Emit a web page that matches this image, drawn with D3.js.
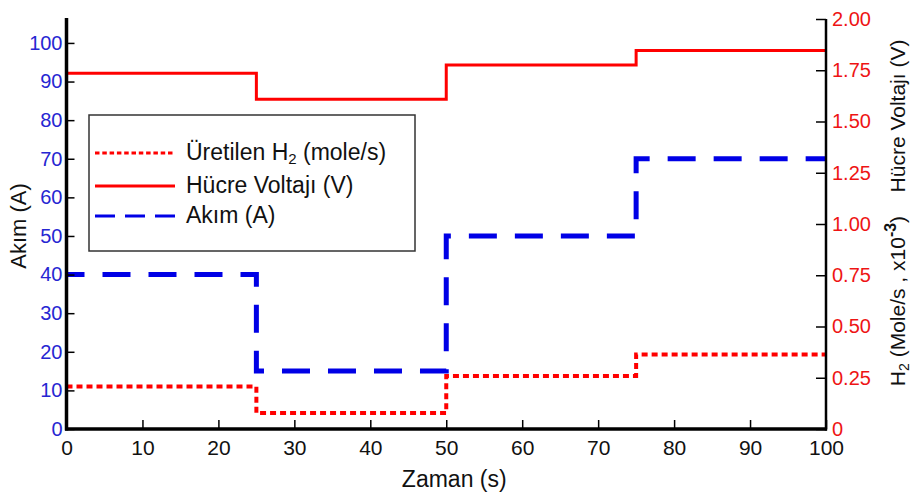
<!DOCTYPE html>
<html><head><meta charset="utf-8">
<script src="https://cdn.jsdelivr.net/npm/d3@7"></script>
<style>
body{margin:0;background:#fff;}
svg{display:block;font-family:"Liberation Sans",Arial,sans-serif;}
</style></head>
<body><svg id="c" width="915" height="493"></svg>
<script>
// ---- data ----
const timeEdges = [0, 25, 50, 75, 100];          // s
const currentA  = [40, 15, 50, 70];              // A (left axis)
const voltageV  = [1.735, 1.608, 1.776, 1.846];  // V (right axis)
const h2Rate    = [0.207, 0.078, 0.259, 0.363];  // mole/s x10^-3 (right axis)
const xTicks = [0,10,20,30,40,50,60,70,80,90,100];
const leftTicks = [0,10,20,30,40,50,60,70,80,90,100];
const rightTicks = [0,0.25,0.5,0.75,1,1.25,1.5,1.75,2];
const rightTickLabels = ["0","0.25","0.50","0.75","1.00","1.25","1.50","1.75","2.00"];
const legendLabels = ["Üretilen H", "Hücre Voltajı (V)", "Akım (A)"];

const svg = d3.select("#c");
const X0 = 66.5, X1 = 826, Y0 = 429, Y1 = 19;
const x = d3.scaleLinear().domain([0,100]).range([X0,X1]);
const yL = d3.scaleLinear().domain([0,106.2]).range([Y0,Y1]);
const yR = d3.scaleLinear().domain([0,2]).range([Y0,Y1]);

const RED = "#ff0000", BLUE = "#0000e6", TBLUE = "#2626d2", TRED = "#ee1414";

function stepPts(vals){
  const p = vals.map((v,i)=>[timeEdges[i], v]);
  p.push([timeEdges[timeEdges.length-1], vals[vals.length-1]]);
  return p;
}
const lineL = d3.line().x(d=>x(d[0])).y(d=>yL(d[1])).curve(d3.curveStepAfter);
const lineR = d3.line().x(d=>x(d[0])).y(d=>yR(d[1])).curve(d3.curveStepAfter);

// series
svg.append("path").attr("d", lineR(stepPts(h2Rate))).attr("fill","none")
  .attr("stroke",RED).attr("stroke-width",4).attr("stroke-dasharray","6,4");
svg.append("path").attr("d", lineR(stepPts(voltageV))).attr("fill","none")
  .attr("stroke",RED).attr("stroke-width",3);
svg.append("path").attr("d", lineL(stepPts(currentA))).attr("fill","none")
  .attr("stroke",BLUE).attr("stroke-width",5).attr("stroke-dasharray","28,18").attr("stroke-dashoffset",10);

// axes
const gx = svg.append("g").attr("transform",`translate(0,${Y0})`)
  .call(d3.axisBottom(x).tickValues(xTicks).tickFormat(d3.format("d")).tickSizeInner(-9).tickSizeOuter(0).tickPadding(6));
gx.select(".domain").remove();
gx.selectAll("text").attr("font-size",21).attr("fill","#111").attr("dy","0.95em");
gx.selectAll("line").attr("stroke","#000").attr("stroke-width",1.5);
svg.append("line").attr("x1",X0-1.5).attr("x2",X1+1).attr("y1",Y0).attr("y2",Y0).attr("stroke","#000").attr("stroke-width",3.5);

const gl = svg.append("g").attr("transform",`translate(${X0},0)`)
  .call(d3.axisLeft(yL).tickValues(leftTicks).tickFormat(d3.format("d")).tickSizeInner(-8).tickSizeOuter(0).tickPadding(4));
gl.select(".domain").remove();
gl.selectAll("text").attr("font-size",20).attr("fill",TBLUE);
gl.selectAll("line").attr("stroke","#000").attr("stroke-width",1.5);
svg.append("line").attr("x1",X0).attr("x2",X0).attr("y1",Y1-1).attr("y2",Y0+1.5).attr("stroke","#000").attr("stroke-width",3.5);

const gr = svg.append("g").attr("transform",`translate(${X1},0)`)
  .call(d3.axisRight(yR).tickValues(rightTicks).tickFormat((d,i)=>rightTickLabels[i]).tickSizeInner(-10).tickSizeOuter(0).tickPadding(6));
gr.select(".domain").remove();
gr.selectAll("text").attr("font-size",20).attr("fill",TRED);
gr.selectAll("line").attr("stroke","#000").attr("stroke-width",1.5);
svg.append("line").attr("x1",X1).attr("x2",X1).attr("y1",Y1).attr("y2",Y0+1.5).attr("stroke","#000").attr("stroke-width",2.5);

// axis titles
svg.append("text").attr("x",(X0+X1)/2+8).attr("y",487).attr("text-anchor","middle")
  .attr("font-size",23).attr("fill","#111").text("Zaman (s)");
svg.append("text").attr("transform","translate(26,226) rotate(-90)").attr("text-anchor","middle")
  .attr("font-size",22).attr("fill","#111").text("Akım (A)");
svg.append("text").attr("transform","translate(905,116) rotate(-90)").attr("text-anchor","middle")
  .attr("font-size",21).attr("fill","#111").text("Hücre Voltajı (V)");
const h2t = svg.append("text").attr("transform","translate(905,301) rotate(-90)").attr("text-anchor","middle")
  .attr("font-size",21).attr("fill","#111");
h2t.append("tspan").text("H");
h2t.append("tspan").attr("font-size",14).attr("dy",4).text("2");
h2t.append("tspan").attr("dy",-4).text(" (Mole/s , x10");
h2t.append("tspan").attr("font-size",16).attr("font-weight","bold").attr("dy",-9).text("-3");
h2t.append("tspan").attr("dy",9).text(")");

// legend
const lg = svg.append("g");
lg.append("rect").attr("x",89).attr("y",115).attr("width",326).attr("height",136)
  .attr("fill","#fff").attr("stroke","#333").attr("stroke-width",1.5);
const legY = [153,186,216];
const legStyles = [
  {c:RED, w:3, d:"4.5,2.8"},
  {c:RED, w:3, d:null},
  {c:BLUE, w:3, d:"20,10"}
];
legStyles.forEach((s,i)=>{
  const l = lg.append("line").attr("x1",95).attr("x2",175).attr("y1",legY[i]).attr("y2",legY[i])
    .attr("stroke",s.c).attr("stroke-width",s.w);
  if(s.d) l.attr("stroke-dasharray",s.d);
  const t = lg.append("text").attr("x",186).attr("y",legY[i]+7).attr("font-size",23).attr("fill","#111");
  if(i===0){
    t.append("tspan").text(legendLabels[0]);
    t.append("tspan").attr("font-size",15).attr("dy",4).text("2");
    t.append("tspan").attr("dy",-4).text(" (mole/s)");
  } else t.text(legendLabels[i]);
});
</script></body></html>
